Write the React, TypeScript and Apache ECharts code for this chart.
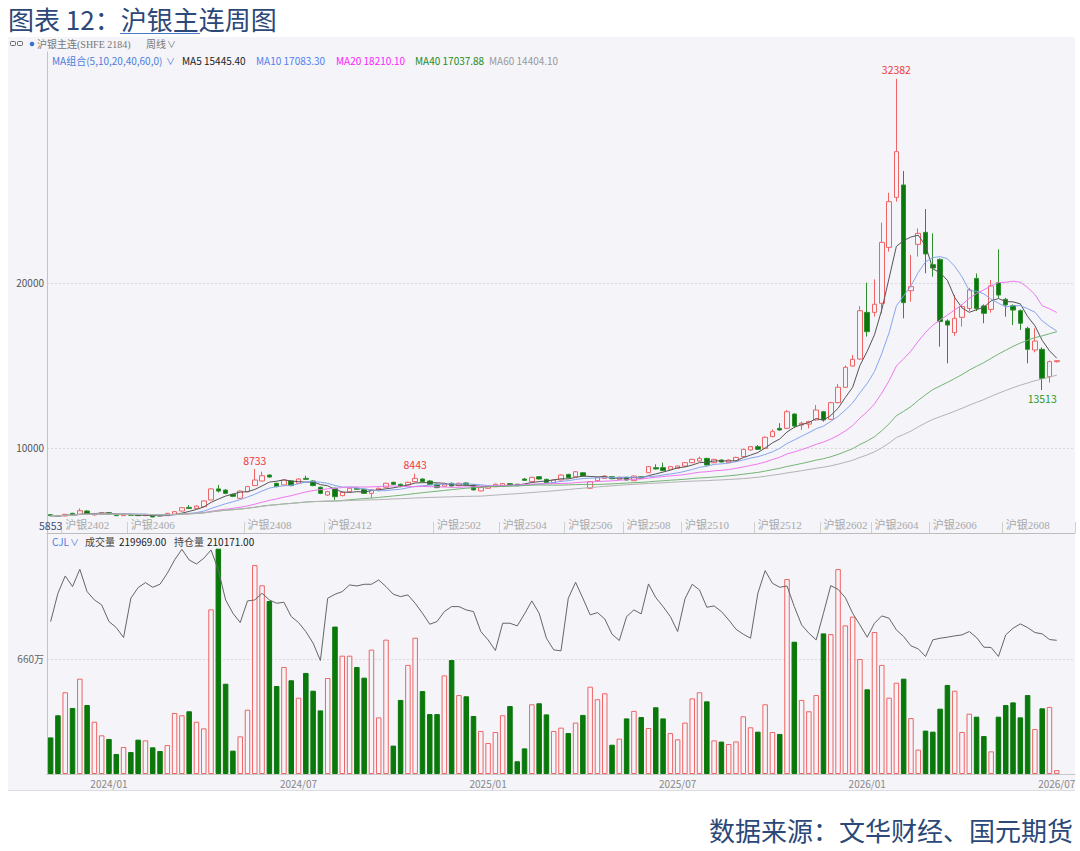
import React, { useEffect, useRef } from 'react';
import * as echarts from 'echarts';

// ---------- data ----------
const firstWeek = [2023, 11, 10]; // first weekly bar (Friday)
const weekSlots = 141; // 139 bars + 2 empty slots at the right edge

const opens = [
  5960, 5910, 5880, 6040, 5980, 6180, 5940, 6000, 6080, 5980,
  5900, 5980, 5960, 5900, 5940, 5940, 5900, 5980, 6180, 6400,
  6340, 6440, 6850, 7520, 7450, 7190, 6950, 7350, 7720, 8000,
  8360, 7860, 7760, 8000, 7860, 8160, 8000, 7620, 7150, 7560,
  7110, 7350, 7560, 7500, 7250, 7460, 7620, 7920, 7800, 7760,
  7960, 8120, 8000, 7800, 7680, 7860, 7720, 7880, 7760, 7400,
  7560, 7660, 7720, 7840, 7800, 8120, 7960, 8260, 8100, 7900,
  8060, 8400, 8260, 8500, 7560, 8020, 8160, 8260, 8100, 8220,
  8020, 8260, 8500, 8810, 8810, 8710, 8770, 8910, 9110, 9210,
  9370, 9110, 9270, 9110, 9210, 9480, 9880, 10080, 9980, 10690,
  11190, 11190, 12060, 11390, 11450, 11700, 12200, 11740, 12750, 13680,
  14970, 15390, 18220, 18220, 18770, 22160, 25190, 25940, 19530, 22340,
  23070, 21110, 21430, 17700, 16990, 17920, 18460, 20280, 18610, 18400,
  20020, 19010, 18630, 18320, 17250, 15940, 15980, 14320, 15230,
];
const closes = [
  5900, 5870, 5980, 5940, 6200, 6000, 6020, 6080, 5980, 5900,
  5980, 5920, 5900, 5940, 5820, 5880, 6040, 6140, 6380, 6340,
  6480, 6790, 7520, 7390, 7250, 7070, 7390, 7660, 8060, 8320,
  8240, 7660, 8060, 7720, 8120, 8100, 7720, 7250, 7350, 7050,
  7310, 7560, 7500, 7250, 7460, 7560, 7860, 7800, 7660, 7920,
  8160, 7960, 7800, 7600, 7800, 7700, 7860, 7760, 7460, 7600,
  7660, 7800, 7840, 7720, 7720, 8040, 8220, 8120, 7900, 8060,
  8360, 8200, 8560, 8300, 7960, 8220, 8300, 8140, 8220, 8060,
  8300, 8180, 8870, 8730, 8630, 8870, 8910, 9110, 9310, 9370,
  8970, 9310, 9150, 9270, 9430, 9920, 10080, 9920, 10650, 10990,
  11090, 12200, 11330, 11500, 11600, 12300, 11700, 12750, 13680, 14890,
  15370, 18320, 17050, 18710, 22460, 24930, 27960, 18810, 19780, 23010,
  21760, 20910, 17660, 17450, 17860, 18570, 19580, 18460, 18160, 19820,
  19270, 18670, 18360, 17560, 15980, 16480, 14220, 15230, 15290,
];
const lows = [
  5853, 5860, 5860, 5920, 5960, 5980, 5920, 5980, 5950, 5880,
  5880, 5900, 5880, 5880, 5800, 5860, 5890, 5960, 6160, 6300,
  6320, 6420, 6830, 7300, 7200, 7020, 6920, 7320, 7700, 7980,
  8200, 7620, 7720, 7680, 7820, 8060, 7680, 7200, 7100, 6850,
  7080, 7320, 7460, 7220, 6950, 7430, 7600, 7760, 7620, 7730,
  7940, 7920, 7760, 7560, 7650, 7660, 7690, 7720, 7420, 7370,
  7530, 7640, 7700, 7690, 7690, 8000, 7930, 8090, 7870, 7870,
  8040, 8170, 8240, 8270, 7530, 7990, 8130, 8110, 8070, 8030,
  7990, 8150, 8480, 8700, 8600, 8680, 8740, 8880, 9080, 9180,
  8940, 9080, 9120, 9080, 9180, 9450, 9850, 9880, 9950, 10650,
  11050, 11150, 11230, 11090, 11190, 11660, 11600, 11700, 12700, 13640,
  14930, 15350, 16750, 17960, 18160, 21900, 24930, 17860, 18870, 21600,
  20590, 20380, 16140, 15130, 16800, 17360, 18300, 18300, 17560, 18200,
  19100, 17960, 17450, 17150, 15130, 15800, 13513, 13960, 15180,
];
const highs = [
  5990, 5940, 6000, 6070, 6340, 6230, 6060, 6110, 6100, 6000,
  6010, 6010, 5990, 5970, 5960, 5960, 6060, 6170, 6420, 6540,
  6520, 6830, 7560, 7760, 7500, 7230, 7420, 7700, 8733, 8560,
  8400, 7900, 8100, 8040, 8160, 8320, 8040, 7660, 7400, 7600,
  7350, 7600, 7600, 7540, 7500, 7600, 7900, 7960, 7840, 7960,
  8443, 8160, 8040, 7840, 7840, 7900, 7900, 7920, 7800, 7640,
  7700, 7840, 7880, 7870, 7830, 8180, 8260, 8290, 8130, 8090,
  8400, 8440, 8600, 8540, 8000, 8260, 8340, 8290, 8250, 8250,
  8330, 8290, 8910, 9010, 9110, 8910, 8950, 9150, 9350, 9480,
  9410, 9350, 9310, 9310, 9470, 9960, 10120, 10180, 10700, 11130,
  11500, 12300, 12100, 11600, 11650, 12610, 12250, 12800, 13880, 15000,
  15640, 18600, 20020, 20220, 23650, 25470, 32382, 26790, 21700, 23310,
  24480, 23010, 21500, 17800, 19270, 18700, 19700, 20580, 18700, 20180,
  22040, 19100, 18700, 18400, 17350, 17250, 16100, 15300, 15320,
];
// weekly volume, 万手
const volumes = [
  210, 337, 469, 379, 547, 396, 300, 222, 201, 115,
  155, 126, 197, 193, 153, 132, 166, 350, 337, 360,
  300, 262, 945, 1293, 518, 134, 216, 369, 1199, 1083,
  993, 505, 614, 538, 438, 580, 478, 365, 551, 846,
  679, 679, 614, 553, 714, 325, 771, 163, 425, 626,
  782, 476, 344, 344, 566, 654, 453, 446, 333, 247,
  178, 241, 337, 390, 73, 147, 400, 406, 342, 247,
  266, 235, 295, 339, 501, 429, 463, 168, 203, 319,
  362, 327, 264, 383, 319, 235, 199, 295, 434, 469,
  417, 193, 186, 172, 187, 331, 268, 243, 400, 241,
  230, 1119, 759, 425, 360, 453, 807, 803, 1176, 853,
  903, 660, 486, 815, 626, 438, 524, 547, 321, 140,
  249, 243, 375, 511, 478, 241, 346, 329, 218, 130,
  329, 396, 411, 325, 453, 258, 377, 385, 22,
];
// open interest, 万手
const openInterest = [
  22.71, 25.26, 26.82, 25.86, 27.42, 25.41, 24.66, 24.21, 22.71, 22.17,
  21.27, 24.81, 25.77, 26.22, 25.80, 26.07, 27.06, 28.26, 29.22, 28.26,
  27.90, 28.41, 29.16, 27.36, 24.66, 23.46, 22.62, 24.57, 24.66, 25.26,
  24.66, 24.36, 24.45, 23.16, 22.62, 21.81, 20.76, 19.20, 24.81, 25.17,
  25.41, 26.01, 25.92, 26.07, 26.07, 26.46, 25.86, 25.17, 24.96, 25.11,
  24.36, 23.46, 22.47, 22.71, 23.61, 24.06, 24.06, 23.76, 23.61, 21.81,
  21.06, 20.10, 22.56, 22.56, 22.32, 23.40, 24.57, 23.46, 21.21, 20.16,
  20.07, 24.81, 26.25, 24.81, 23.31, 23.52, 22.95, 21.57, 21.00, 23.16,
  23.76, 23.40, 26.10, 24.87, 24.06, 23.16, 21.81, 24.75, 26.07, 25.56,
  24.00, 24.12, 23.61, 22.86, 22.02, 21.57, 21.21, 25.26, 27.30, 26.16,
  25.80, 25.92, 24.06, 22.41, 21.66, 21.06, 23.46, 25.95, 25.62, 24.87,
  23.46, 22.41, 21.30, 22.56, 23.22, 23.01, 21.96, 21.36, 20.52, 20.25,
  19.56, 21.06, 21.21, 21.30, 21.42, 21.51, 21.81, 21.27, 20.40, 20.37,
  19.56, 21.51, 22.11, 22.50, 22.17, 21.72, 21.60, 21.09, 21.02,
];
// main contract switches (week number, 1-based)
const contractNames = ['沪银2402', '沪银2406', '沪银2408', '沪银2412', '沪银2502', '沪银2504', '沪银2506', '沪银2508', '沪银2510', '沪银2512', '沪银2602', '沪银2604', '沪银2606', '沪银2608'];
const contractWeeks = [3, 12, 28, 39, 54, 63, 72, 80, 88, 98, 107, 114, 122, 132];
const priceTicks = [10000, 20000];
const volumeTicks = [660];
// marked extremes
const markWeeks = [1, 29, 51, 117, 137];
const markValues = [5853, 8733, 8443, 32382, 13513];
const markKinds = ['low', 'high', 'high', 'high', 'low'];
const maPeriods = [5, 10, 20, 40, 60];
const maLegendValues = ['15445.40', '17083.30', '18210.10', '17037.88', '14404.10'];
const lastVolume = '219969.00';
const lastOpenInterest = '210171.00';

// ---------- styles ----------
const BG = '#f4f4f9';
const RED = '#f06464';
const GREEN = '#0a780a';
const GREEN_WICK = '#2f8f2f';
const MA_LINE_COLORS = ['#555555', '#86a6ee', '#ef78ef', '#74b474', '#b4b4b4'];
const MA_TEXT_COLORS = ['#222222', '#4f7ff0', '#ff22ff', '#1c8c1c', '#999999'];
const SANS = '"Noto Sans CJK SC", "Noto Sans", sans-serif';
const SERIF = '"Liberation Serif", "Noto Sans CJK SC", serif';

function pad(n: number) {
  return n < 10 ? '0' + n : String(n);
}

function buildOption() {
  const categories: string[] = [];
  const months: number[] = [];
  for (let i = 0; i < weekSlots; i++) {
    const d = new Date(Date.UTC(firstWeek[0], firstWeek[1] - 1, firstWeek[2] + 7 * i));
    categories.push(`${d.getUTCFullYear()}/${pad(d.getUTCMonth() + 1)}/${pad(d.getUTCDate())}`);
    months.push(d.getUTCMonth() + 1);
  }
  const monthLabel = (i: number) => i > 0 && months[i] !== months[i - 1] && (months[i] === 1 || months[i] === 7);

  const contractMap: Record<number, string> = {};
  contractWeeks.forEach((w, k) => (contractMap[w - 1] = contractNames[k]));

  const candles = opens.map((o, i) => [o, closes[i], lows[i], highs[i]]);

  const ma = (n: number) =>
    closes.map((_, i) => {
      const s = Math.max(0, i - n + 1);
      let sum = 0;
      for (let j = s; j <= i; j++) sum += closes[j];
      return +(sum / (i - s + 1)).toFixed(2);
    });

  const volData = volumes.map((v, i) => {
    const up = closes[i] >= opens[i];
    return {
      value: v,
      itemStyle: up
        ? { color: BG, borderColor: RED, borderWidth: 1 }
        : { color: GREEN, borderColor: GREEN, borderWidth: 1 },
    };
  });

  const markData = markWeeks.map((w, k) => {
    const high = markKinds[k] === 'high';
    return {
      coord: [categories[w - 1], markValues[k]],
      value: markValues[k],
      symbolSize: 1,
      itemStyle: { color: 'rgba(0,0,0,0)' },
      label: {
        show: true,
        position: high ? 'top' : 'bottom',
        distance: 3,
        formatter: String(markValues[k]),
        color: high ? '#f03a3a' : k === 0 ? '#3a4f78' : '#2f9a2f',
        fontSize: 10.5,
        fontFamily: SANS,
      },
    };
  });

  const text = (t: string, x: number, y: number, fill: string, fontSize = 10, family = SANS, align = 'left') => ({
    type: 'text',
    x,
    y,
    z: 100,
    silent: true,
    style: {
      text: t,
      fill,
      fontSize,
      fontFamily: family,
      align,
      textAlign: align,
      verticalAlign: 'middle',
      textVerticalAlign: 'middle',
    },
  });
  const line = (x1: number, y1: number, x2: number, y2: number, stroke: string, lineWidth = 1) => ({
    type: 'line',
    z: 100,
    silent: true,
    shape: { x1, y1, x2, y2 },
    style: { stroke, lineWidth },
  });

  const maLegendX = [182, 256, 336, 415, 489];
  const graphic: any[] = [
    { type: 'rect', z: -100, silent: true, shape: { x: 8, y: 37, width: 1067, height: 754 }, style: { fill: BG } },
    line(8, 790.5, 1075, 790.5, '#dcdce3'),
    text('图表 12：沪银主连周图', 8, 18, '#2b4878', 26),
    line(120, 33.5, 200, 33.5, '#4a78c8', 1.2),
    text('数据来源：文华财经、国元期货', 1073, 829, '#2b4878', 26, SANS, 'right'),
    // header row
    { type: 'rect', z: 100, silent: true, shape: { x: 10.5, y: 41.5, width: 5, height: 4, r: 1 }, style: { fill: 'none', stroke: '#666', lineWidth: 1 } },
    { type: 'rect', z: 100, silent: true, shape: { x: 17.5, y: 41.5, width: 5, height: 4, r: 1 }, style: { fill: 'none', stroke: '#666', lineWidth: 1 } },
    { type: 'circle', z: 100, silent: true, shape: { cx: 32, cy: 44, r: 2.3 }, style: { fill: '#3b6fd4' } },
    text('沪银主连(SHFE 2184)', 37, 44, '#777', 10, SERIF),
    text('周线', 146, 44, '#777', 10, SERIF),
    text('∨', 167, 44, '#777', 9),
    // MA legend
    text('MA组合(5,10,20,40,60,0)', 52, 60, '#4d7de0', 10),
    text('∨', 166, 61, '#4d7de0', 9),
    ...maPeriods.map((p, k) => text(`MA${p} ${maLegendValues[k]}`, maLegendX[k], 60, MA_TEXT_COLORS[k], 10)),
    // volume header
    text('CJL', 52, 541, '#4d7de0', 10),
    text('∨', 70, 542, '#4d7de0', 9),
    text('成交量', 85, 541, '#444', 10),
    text(lastVolume, 119, 541, '#222', 10),
    text('持仓量', 174, 541, '#444', 10),
    text(lastOpenInterest, 207, 541, '#222', 10),
    line(47.5, 533, 47.5, 548, '#c4c4c4'),
  ];

  const maSeries = maPeriods.map((p, k) => ({
    name: `MA${p}`,
    type: 'line',
    xAxisIndex: 0,
    yAxisIndex: 0,
    data: ma(p),
    symbol: 'none',
    silent: true,
    z: 3,
    lineStyle: { color: MA_LINE_COLORS[k], width: 1 },
  }));

  return {
    animation: false,
    backgroundColor: '#ffffff',
    graphic,
    grid: [
      { left: 47, top: 52, width: 1028, height: 481, outerBoundsMode: 'none', containLabel: false },
      { left: 47, top: 548, width: 1028, height: 226, outerBoundsMode: 'none', containLabel: false },
    ],
    xAxis: [
      {
        type: 'category',
        gridIndex: 0,
        data: categories,
        boundaryGap: true,
        axisLine: { show: true, lineStyle: { color: '#bdbdbd' } },
        axisTick: {
          show: true,
          inside: true,
          length: 11,
          interval: (i: number) => contractMap[i] !== undefined,
          lineStyle: { color: '#cfcfcf' },
        },
        axisLabel: {
          show: true,
          inside: true,
          interval: 0,
          margin: 3,
          align: 'left',
          verticalAlign: 'bottom',
          formatter: (_v: string, i: number) => contractMap[i] || '',
          color: '#a8a8a8',
          fontSize: 11,
          fontFamily: SERIF,
        },
        splitLine: { show: false },
      },
      {
        type: 'category',
        gridIndex: 1,
        data: categories,
        boundaryGap: true,
        axisLine: { show: true, lineStyle: { color: '#c8c8c8' } },
        axisTick: { show: false },
        axisLabel: {
          show: true,
          interval: (i: number) => monthLabel(i),
          formatter: (v: string) => v.slice(0, 7),
          color: '#888',
          fontSize: 10,
          margin: 4,
          fontFamily: SANS,
        },
        splitLine: { show: false },
      },
    ],
    yAxis: [
      {
        type: 'value',
        gridIndex: 0,
        min: 4848,
        max: 34000,
        axisLine: { show: true, lineStyle: { color: '#c4c4c4' } },
        axisTick: { show: false, customValues: priceTicks },
        axisLabel: {
          customValues: priceTicks,
          formatter: (v: number) => String(Math.round(v)),
          color: '#555',
          fontSize: 10,
          margin: 3,
          fontFamily: SANS,
        },
        splitLine: { show: true, lineStyle: { color: '#d9d9de', type: [2, 2], width: 1 } },
      },
      {
        type: 'value',
        gridIndex: 1,
        min: 0,
        max: 1297,
        axisLine: { show: true, lineStyle: { color: '#c4c4c4' } },
        axisTick: { show: false, customValues: volumeTicks },
        axisLabel: {
          customValues: volumeTicks,
          formatter: (v: number) => String(Math.round(v)) + '万',
          color: '#666',
          fontSize: 10,
          margin: 3,
          fontFamily: SANS,
        },
        splitLine: { show: true, lineStyle: { color: '#d9d9de', type: [2, 2], width: 1 } },
      },
      {
        type: 'value',
        gridIndex: 1,
        min: 8.97,
        max: 29.34,
        show: false,
        splitLine: { show: false },
      },
    ],
    series: [
      {
        name: '沪银主连',
        type: 'candlestick',
        xAxisIndex: 0,
        yAxisIndex: 0,
        data: candles,
        barWidth: 5,
        silent: true,
        z: 2,
        itemStyle: { color: BG, color0: GREEN, borderColor: RED, borderColor0: GREEN_WICK, borderWidth: 1 },
        markPoint: { symbol: 'circle', silent: true, animation: false, data: markData },
      },
      ...maSeries,
      {
        name: '成交量',
        type: 'bar',
        xAxisIndex: 1,
        yAxisIndex: 1,
        data: volData,
        barWidth: 5.5,
        silent: true,
      },
      {
        name: '持仓量',
        type: 'line',
        xAxisIndex: 1,
        yAxisIndex: 2,
        data: openInterest,
        symbol: 'none',
        silent: true,
        z: 4,
        lineStyle: { color: '#666', width: 1 },
      },
    ],
  };
}

export default function App() {
  const ref = useRef<HTMLDivElement>(null);
  useEffect(() => {
    document.body.style.margin = '0';
    const chart = echarts.init(ref.current as HTMLDivElement, null, { renderer: 'svg' });
    chart.setOption(buildOption() as any);
    return () => chart.dispose();
  }, []);
  return <div ref={ref} style={{ width: 1080, height: 851, background: '#ffffff' }} />;
}
